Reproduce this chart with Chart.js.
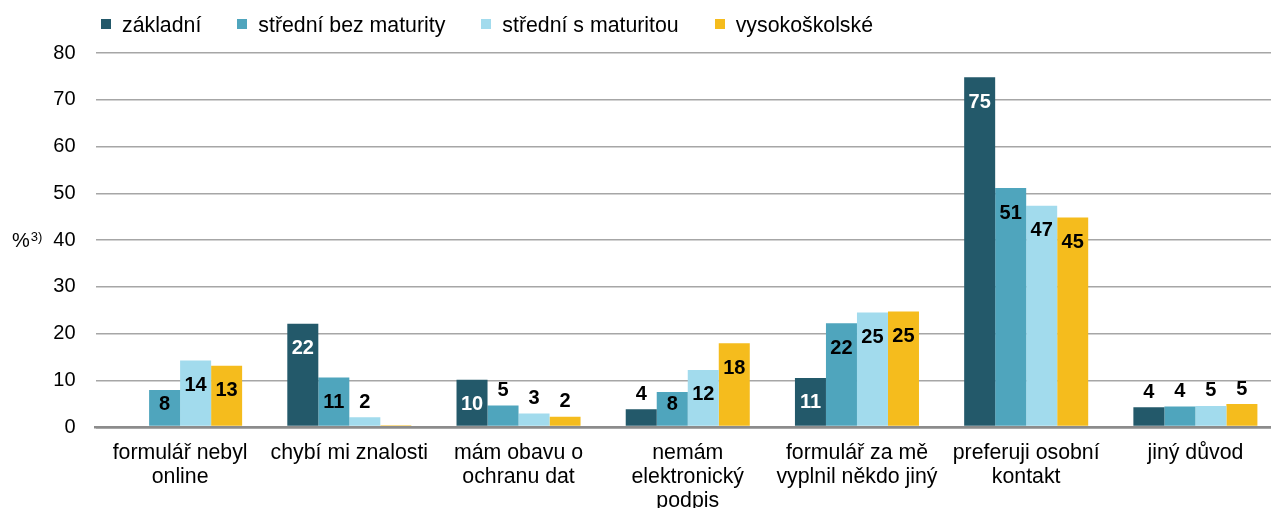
<!DOCTYPE html>
<html>
<head>
<meta charset="utf-8">
<script src="https://cdn.jsdelivr.net/npm/chart.js@4/dist/chart.umd.min.js"></script>
<style>
    html, body { margin: 0; padding: 0; overflow: hidden; background: #fff; }
    #wrap { position: relative; width: 1280px; height: 527px; }
    #legend { position: absolute; left: 101px; top: 13px; display: flex; font: 21.3px/24px "Liberation Sans", Arial, sans-serif; color: #000; }
    #legend span.item { display: flex; align-items: center; margin-right: 36px; }
    #legend span.box { width: 10px; height: 10px; margin-right: 11px; display: inline-block; position: relative; top: -1px; }
</style>
</head>
<body>
<div id="wrap">
    <canvas id="educationChart"></canvas>
    <div id="legend"></div>
</div>
<script>
const categories = [
    ["formulář nebyl", "online"],
    "chybí mi znalosti",
    ["mám obavu o", "ochranu dat"],
    ["nemám", "elektronický", "podpis"],
    ["formulář za mě", "vyplnil někdo jiný"],
    ["preferuji osobní", "kontakt"],
    "jiný důvod",
];
const seriesNames = ["základní", "střední bez maturity", "střední s maturitou", "vysokoškolské"];
const zakladni = [0, 22.1, 10.1, 3.8, 10.5, 74.8, 4.2];
const stredniBezMaturity = [7.9, 10.6, 4.6, 7.5, 22.2, 51.1, 4.4];
const stredniSMaturitou = [14.2, 2.1, 2.9, 12.2, 24.5, 47.3, 4.5];
const vysokoskolske = [13.1, 0.4, 2.2, 17.9, 24.7, 44.8, 4.9];
const yTicks = [0, 10, 20, 30, 40, 50, 60, 70, 80];

const colors = ["#23596a", "#4fa5bd", "#a2dbed", "#f5bc1d"];
const fontFamily = '"Liberation Sans", Arial, sans-serif';
Chart.defaults.font.family = fontFamily;
Chart.defaults.color = "#000";

// HTML legend
const legendEl = document.getElementById("legend");
seriesNames.forEach((name, i) => {
    legendEl.insertAdjacentHTML("beforeend",
        '<span class="item"><span class="box" style="background:' + colors[i] + '"></span>' + name + "</span>");
});

// value labels on / above the bars
const barLabels = {
    id: "barLabels",
    afterDatasetsDraw(chart) {
        const ctx = chart.ctx;
        ctx.save();
        ctx.font = "bold 20px " + fontFamily;
        ctx.textAlign = "center";
        ctx.textBaseline = "middle";
        chart.data.datasets.forEach((ds, di) => {
            chart.getDatasetMeta(di).data.forEach((bar, i) => {
                const v = ds.data[i];
                const txt = Math.round(v);
                if (!txt) return;
                let y;
                if (v >= 6) {
                    y = Math.min(bar.y + 25, bar.base - 21);
                    ctx.fillStyle = di === 0 ? "#fff" : "#000";
                } else {
                    y = bar.y - 15;
                    ctx.fillStyle = "#000";
                }
                ctx.fillText(String(txt), bar.x, y);
            });
        });
        ctx.restore();
    },
};

// "%3)" unit label left of the y axis
const unitLabel = {
    id: "unitLabel",
    afterDraw(chart) {
        const ctx = chart.ctx;
        const y = chart.scales.y.getPixelForValue(40);
        ctx.save();
        ctx.fillStyle = "#000";
        ctx.textBaseline = "middle";
        ctx.textAlign = "left";
        ctx.font = "20px " + fontFamily;
        ctx.fillText("%", 12, y + 1);
        const w = ctx.measureText("%").width;
        ctx.font = "13px " + fontFamily;
        ctx.fillText("3)", 12 + w + 1, y - 3);
        ctx.restore();
    },
};

const datasets = [zakladni, stredniBezMaturity, stredniSMaturitou, vysokoskolske].map((d, i) => ({
    label: seriesNames[i],
    data: d,
    backgroundColor: colors[i],
    borderWidth: 0,
    categoryPercentage: 0.733,
    barPercentage: 1.0,
}));

new Chart(document.getElementById("educationChart"), {
    type: "bar",
    data: { labels: categories, datasets: datasets },
    plugins: [barLabels, unitLabel],
    options: {
        responsive: true,
        maintainAspectRatio: false,
        animation: false,
        layout: { padding: { top: 53, right: 0, bottom: 0, left: 0 } },
        plugins: {
            legend: { display: false },
            tooltip: { enabled: false },
        },
        scales: {
            x: {
                grid: { display: false, drawTicks: false },
                border: { display: true, color: "#8c8c8c", width: 2.5 },
                ticks: {
                    autoSkip: false,
                    maxRotation: 0,
                    padding: 14,
                    font: { size: 21.3, lineHeight: "24px" },
                    color: "#000",
                },
            },
            y: {
                min: 0,
                max: 80,
                afterFit: (scale) => { scale.width = 95.5; },
                afterBuildTicks: (scale) => { scale.ticks = yTicks.map((v) => ({ value: v })); },
                grid: {
                    drawTicks: false,
                    color: (c) => (c.tick && c.tick.value === 0 ? "#8c8c8c" : "#a6a6a6"),
                    lineWidth: (c) => (c.tick && c.tick.value === 0 ? 2.5 : 1.5),
                },
                border: { display: false },
                ticks: {
                    padding: 20,
                    font: { size: 20 },
                    color: "#000",
                },
            },
        },
    },
});
</script>
</body>
</html>
